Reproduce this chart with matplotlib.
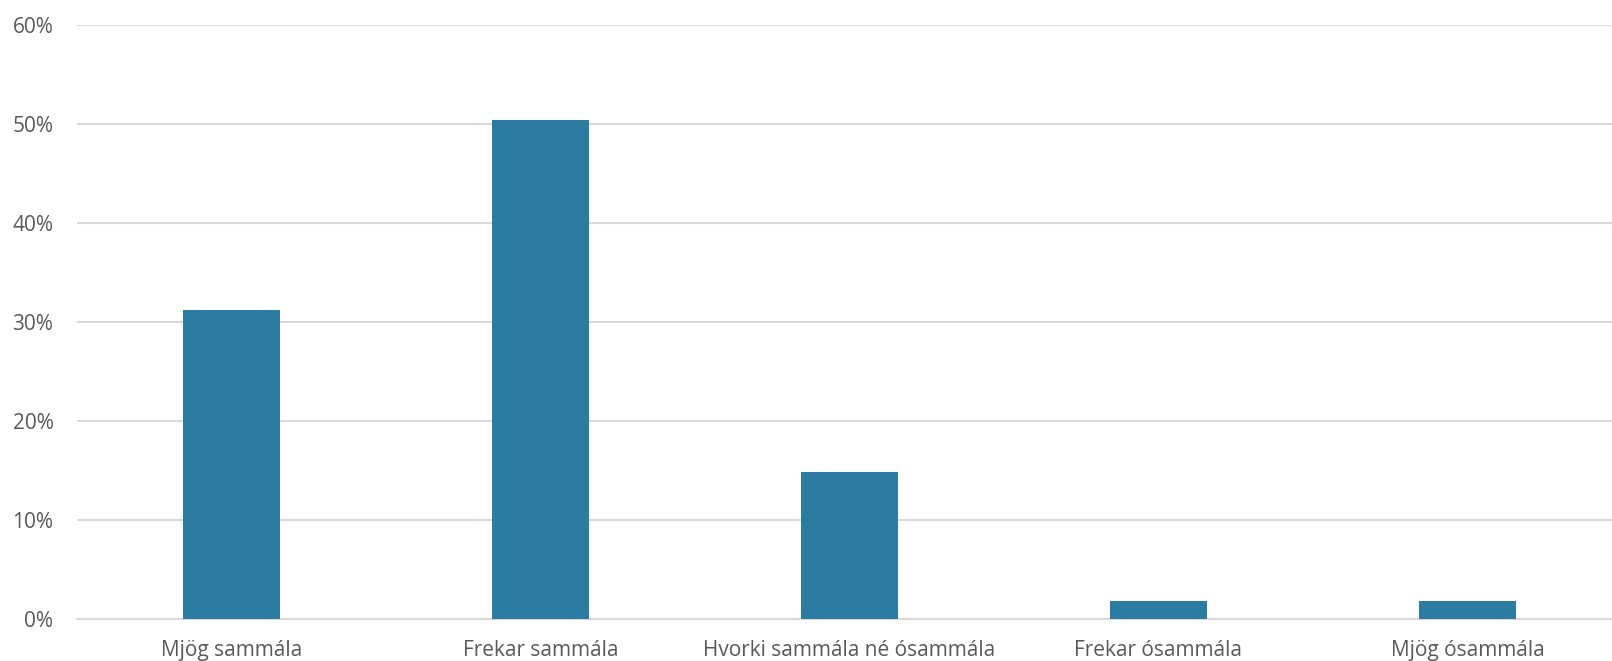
import matplotlib.pyplot as plt
from matplotlib.ticker import FuncFormatter

# Gögn lesin af myndinni
flokkar = ["Mjög sammála", "Frekar sammála", "Hvorki sammála né ósammála",
           "Frekar ósammála", "Mjög ósammála"]
hlutfall = [31.2, 50.4, 14.8, 1.8, 1.8]
y_ticks = [0, 10, 20, 30, 40, 50, 60]

litur = "#2C7BA0"
texti = "#595959"

plt.rcParams["font.family"] = ["Open Sans", "DejaVu Sans"]

fig = plt.figure(figsize=(16.12, 6.61), dpi=100)
# axes reach a little past the right edge, as in the reference
ax = fig.add_axes([77 / 1612, (661 - 618.7) / 661, 1545 / 1612, (618.7 - 25) / 661])

x = range(len(flokkar))
ax.bar(x, hlutfall, width=0.314, color=litur, zorder=3)

ax.set_xlim(-0.5, len(flokkar) - 0.5)
ax.set_ylim(0, 60)
ax.set_yticks(y_ticks)
ax.yaxis.set_major_formatter(FuncFormatter(lambda v, p: "{:.0f}%".format(v)))
ax.set_xticks(list(x))
ax.set_xticklabels(flokkar)

ax.grid(axis="y", color="#D9D9D9", linewidth=1.5, zorder=0)
for s in ["top", "right", "left"]:
    ax.spines[s].set_visible(False)
ax.spines["bottom"].set_color("#D9D9D9")
ax.spines["bottom"].set_linewidth(1.5)

ax.tick_params(axis="both", length=0, colors=texti, labelsize=15)
ax.tick_params(axis="y", pad=17)
ax.tick_params(axis="x", pad=15)

fig.savefig("out.png", dpi=100)
